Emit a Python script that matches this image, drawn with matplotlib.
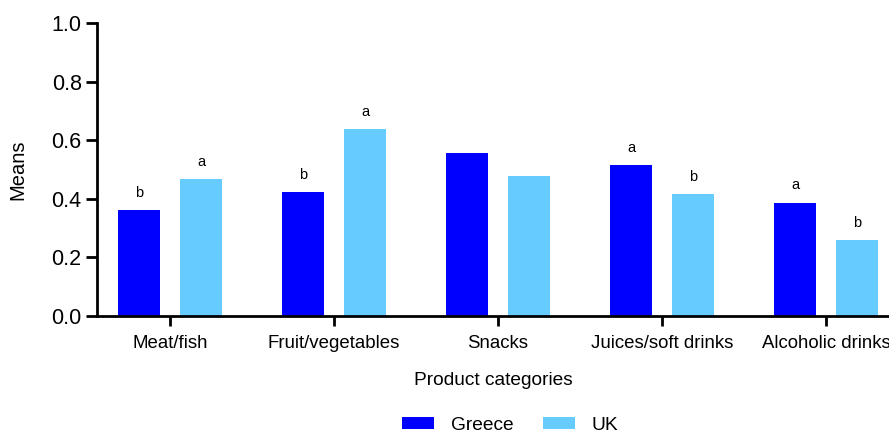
import matplotlib.pyplot as plt
import numpy as np

plt.rcParams['font.family'] = ['Liberation Sans', 'DejaVu Sans']

categories = ['Meat/fish', 'Fruit/vegetables', 'Snacks', 'Juices/soft drinks', 'Alcoholic drinks']
greece = [0.362, 0.423, 0.556, 0.515, 0.386]
uk = [0.467, 0.638, 0.478, 0.416, 0.259]
greece_letters = ['b', 'b', '', 'a', 'a']
uk_letters = ['a', 'a', '', 'b', 'b']

greece_color = '#0000FF'
uk_color = '#66CCFF'

fig = plt.figure(figsize=(8.89, 4.33), dpi=100)
ax = fig.add_axes([0.1091, 0.2702, 0.8909, 0.6767])

x = np.arange(len(categories))
width = 0.256
offset = 0.189

bars_gr = ax.bar(x - offset, greece, width, color=greece_color, label='Greece')
bars_uk = ax.bar(x + offset, uk, width, color=uk_color, label='UK')

# significance letters above each bar
for bars, letters in ((bars_gr, greece_letters), (bars_uk, uk_letters)):
    for bar, letter in zip(bars, letters):
        if letter:
            ax.annotate(letter, (bar.get_x() + bar.get_width() / 2, bar.get_height()),
                        xytext=(0, 7.5), textcoords='offset points',
                        ha='center', va='bottom', fontsize=10.5)

ax.set_xlim(-0.445, 4.384)
ax.set_ylim(0, 1.0)
ax.set_yticks(np.arange(0, 1.01, 0.2))
ax.set_yticklabels([f'{v:.1f}' for v in np.arange(0, 1.01, 0.2)])
ax.set_xticks(x)
ax.set_xticklabels(categories)

for side in ('top', 'right'):
    ax.spines[side].set_visible(False)
for side in ('left', 'bottom'):
    ax.spines[side].set_linewidth(2)
    ax.spines[side].set_clip_on(False)

ax.tick_params(axis='y', length=8, width=2, labelsize=15.5, pad=3)
ax.tick_params(axis='x', length=7, width=2, labelsize=13.4, pad=7)

ax.set_ylabel('Means', fontsize=14.5, labelpad=17)
ax.set_xlabel('Product categories', fontsize=13.8, labelpad=14)

fig.legend(handles=[bars_gr, bars_uk], labels=['Greece', 'UK'],
           loc='center', bbox_to_anchor=(0.574, 0.018), ncol=2, frameon=False,
           fontsize=13.8, handlelength=1.67, handleheight=0.6, columnspacing=1.5,
           handletextpad=0.9)

fig.savefig('out.png', dpi=100)
